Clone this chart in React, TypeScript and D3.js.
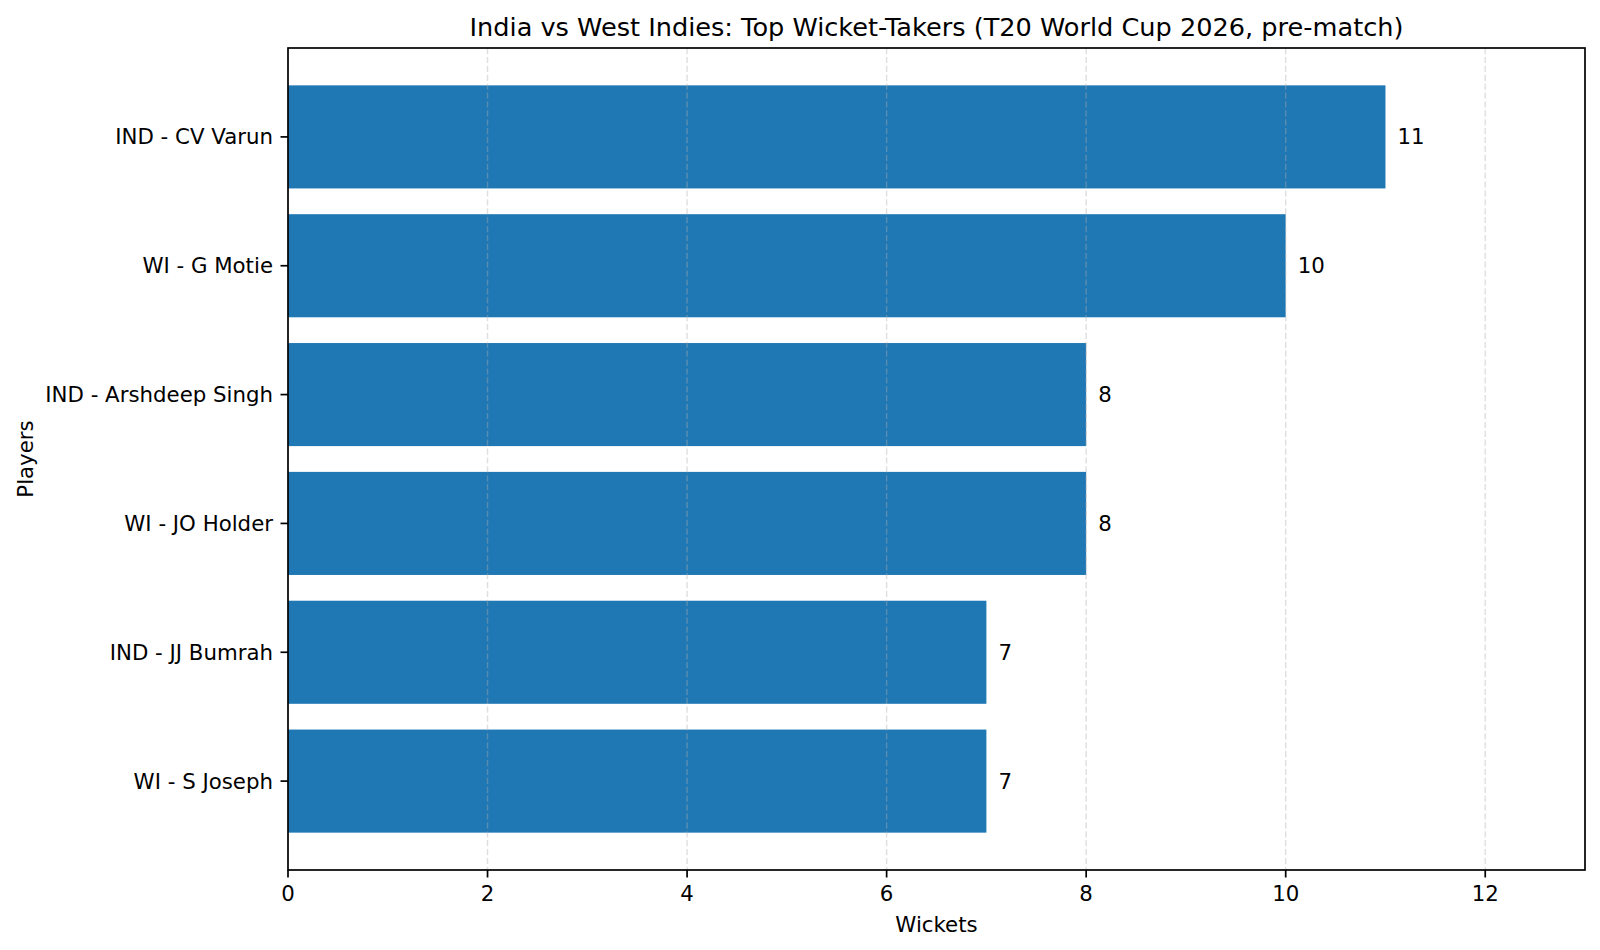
import React from "react";
import * as d3 from "d3";

const players = [
  "IND - CV Varun",
  "WI - G Motie",
  "IND - Arshdeep Singh",
  "WI - JO Holder",
  "IND - JJ Bumrah",
  "WI - S Joseph",
];
const wickets = [11, 10, 8, 8, 7, 7];
const xTicks = [0, 2, 4, 6, 8, 10, 12];

const title = "India vs West Indies: Top Wicket-Takers (T20 World Cup 2026, pre-match)";

const WIDTH = 1600;
const HEIGHT = 950;
const margin = { top: 48, right: 15, bottom: 80, left: 288 };
const FONT = "'DejaVu Sans', sans-serif";
const TICK_FS = 21.3;
const TITLE_FS = 25.6;

export default function App() {
  const innerW = WIDTH - margin.left - margin.right;
  const innerH = HEIGHT - margin.top - margin.bottom;

  const x = d3.scaleLinear().domain([0, 13]).range([0, innerW]);
  const y = d3
    .scaleBand<string>()
    .domain(players)
    .range([0, innerH])
    .paddingInner(0.2)
    .paddingOuter(0.29);

  const lw = 1.7;
  const tickLen = 7.5;

  return (
    <svg
      width={WIDTH}
      height={HEIGHT}
      style={{ position: "absolute", left: 0, top: 0, background: "#fff" }}
      fontFamily={FONT}
    >
      <text
        x={margin.left + innerW / 2}
        y={27}
        textAnchor="middle"
        dominantBaseline="central"
        fontSize={TITLE_FS}
      >
        {title}
      </text>

      <g transform={`translate(${margin.left},${margin.top})`}>
        {players.map((p, i) => (
          <rect
            key={p}
            x={x(0)}
            y={y(p)}
            width={x(wickets[i]) - x(0)}
            height={y.bandwidth()}
            fill="#1f77b4"
          />
        ))}

        {/* grid sits above the bars, like zorder in the original */}
        {xTicks.map((t) => (
          <line
            key={"g" + t}
            x1={x(t)}
            x2={x(t)}
            y1={0}
            y2={innerH}
            stroke="#b0b0b0"
            strokeOpacity={0.4}
            strokeWidth={1.4}
            strokeDasharray="6.2,2.7"
          />
        ))}

        {players.map((p, i) => (
          <text
            key={"v" + p}
            x={x(wickets[i]) + 12}
            y={(y(p) ?? 0) + y.bandwidth() / 2}
            dominantBaseline="central"
            fontSize={TICK_FS}
          >
            {wickets[i]}
          </text>
        ))}

        <rect
          x={0}
          y={0}
          width={innerW}
          height={innerH}
          fill="none"
          stroke="#000"
          strokeWidth={lw}
        />

        {players.map((p) => {
          const cy = (y(p) ?? 0) + y.bandwidth() / 2;
          return (
            <g key={"t" + p}>
              <line x1={-tickLen} x2={0} y1={cy} y2={cy} stroke="#000" strokeWidth={lw} />
              <text
                x={-tickLen * 2}
                y={cy}
                textAnchor="end"
                dominantBaseline="central"
                fontSize={TICK_FS}
              >
                {p}
              </text>
            </g>
          );
        })}

        {xTicks.map((t) => (
          <g key={"x" + t}>
            <line x1={x(t)} x2={x(t)} y1={innerH} y2={innerH + tickLen} stroke="#000" strokeWidth={lw} />
            <text
              x={x(t)}
              y={innerH + tickLen * 2}
              textAnchor="middle"
              dominantBaseline="hanging"
              fontSize={TICK_FS}
            >
              {t}
            </text>
          </g>
        ))}

        <text
          x={innerW / 2}
          y={innerH + 54}
          textAnchor="middle"
          dominantBaseline="central"
          fontSize={TICK_FS}
        >
          Wickets
        </text>
      </g>

      <text
        transform={`translate(25,${margin.top + innerH / 2}) rotate(-90)`}
        textAnchor="middle"
        dominantBaseline="central"
        fontSize={TICK_FS}
      >
        Players
      </text>
    </svg>
  );
}
